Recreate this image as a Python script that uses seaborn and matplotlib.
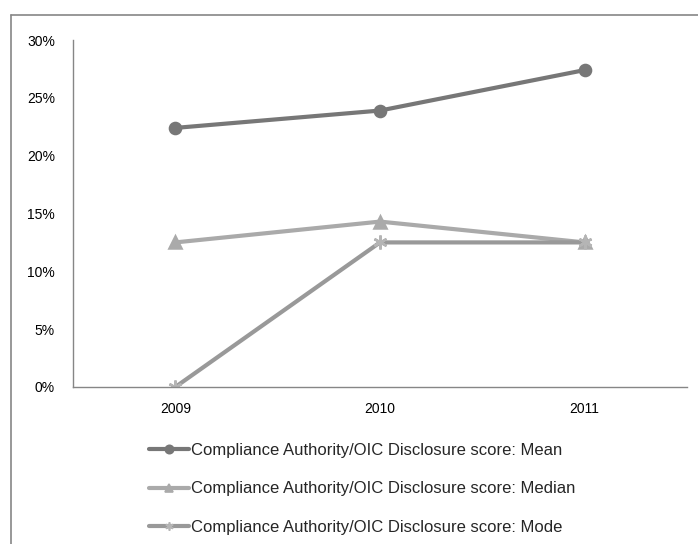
import matplotlib
matplotlib.use("Agg")
import matplotlib.pyplot as plt
from matplotlib.lines import Line2D
import pandas as pd
import seaborn as sns

years = ["2009", "2010", "2011"]
mean_scores = [22.4, 23.9, 27.4]
median_scores = [12.5, 14.3, 12.5]
mode_scores = [0.0, 12.5, 12.5]
series_names = [
    "Compliance Authority/OIC Disclosure score: Mean",
    "Compliance Authority/OIC Disclosure score: Median",
    "Compliance Authority/OIC Disclosure score: Mode",
]
y_ticks = [0, 5, 10, 15, 20, 25, 30]
y_tick_labels = ["0%", "5%", "10%", "15%", "20%", "25%", "30%"]

sns.set_theme(style="white")
plt.rcParams["font.family"] = ["Liberation Sans", "DejaVu Sans"]

rows = []
for name, vals in zip(series_names, [mean_scores, median_scores, mode_scores]):
    for yr, v in zip(years, vals):
        rows.append({"year": yr, "value": v, "series": name})
df = pd.DataFrame(rows)

colors = {series_names[0]: "#777777", series_names[1]: "#aaaaaa", series_names[2]: "#999999"}
marker_colors = {series_names[0]: "#777777", series_names[1]: "#aaaaaa", series_names[2]: "#b5b5b5"}
markers = {series_names[0]: "o", series_names[1]: "^", series_names[2]: (6, 2, 0)}
marker_sizes = {series_names[0]: 8, series_names[1]: 8, series_names[2]: 10}

fig = plt.figure(figsize=(6.98, 5.44), dpi=100)
ax = fig.add_axes([73 / 698, 1 - 387 / 544, (687 - 73) / 698, (387 - 40) / 544])

for name in series_names:
    sub = df[df["series"] == name]
    sns.lineplot(data=sub, x="year", y="value", ax=ax, color=colors[name],
                 marker=markers[name], markersize=marker_sizes[name], linewidth=3,
                 markerfacecolor=marker_colors[name],
                 markeredgecolor=marker_colors[name], markeredgewidth=1.8, legend=False)

ax.set_xlim(-0.5, 2.5)
ax.set_ylim(0, 30)
ax.set_yticks(y_ticks)
ax.set_yticklabels(y_tick_labels)
ax.set_xlabel("")
ax.set_ylabel("")
ax.tick_params(axis="both", length=0, labelsize=10, colors="black")
ax.tick_params(axis="y", pad=13)
ax.tick_params(axis="x", pad=11)
for side in ["top", "right"]:
    ax.spines[side].set_visible(False)
for side in ["left", "bottom"]:
    ax.spines[side].set_color("#868686")
    ax.spines[side].set_linewidth(1)
ax.grid(False)

# Legend below the plot area
handles = [
    Line2D([], [], color=colors[n], marker=markers[n], markersize=6, linewidth=3,
           markerfacecolor=marker_colors[n],
           markeredgecolor=marker_colors[n], markeredgewidth=1.2)
    for n in series_names
]
fig.legend(handles, series_names, loc="upper left",
           bbox_to_anchor=(134 / 698, 1 - 428 / 544), frameon=False,
           fontsize=12, handlelength=2.4, handletextpad=0.1, labelspacing=1.4)

# Chart frame lines
fig.add_artist(Line2D([10.5 / 698, 10.5 / 698], [0, 1 - 15 / 544],
                      transform=fig.transFigure, color="#868686", linewidth=1.2))
fig.add_artist(Line2D([10.5 / 698, 1], [1 - 15 / 544, 1 - 15 / 544],
                      transform=fig.transFigure, color="#868686", linewidth=1.2))

fig.savefig("out.png", dpi=100, facecolor="white")
